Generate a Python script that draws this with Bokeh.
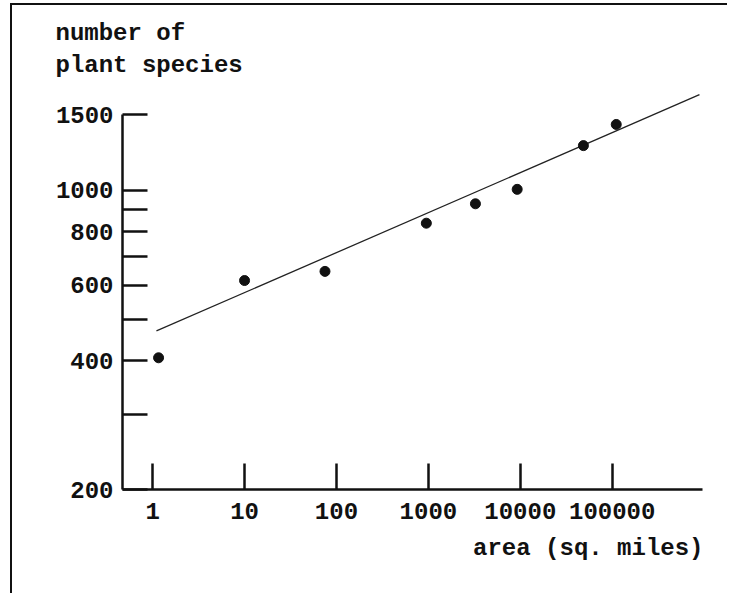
from bokeh.plotting import figure
from bokeh.models import FixedTicker, NumeralTickFormatter, Title, Range1d
from bokeh.embed import file_html
from bokeh.resources import INLINE

# data
area = [1.16, 10, 75, 950, 3250, 9250, 48600, 110600]
species = [406, 615, 646, 837, 929, 1004, 1270, 1423]
fit_area = [1.1, 890000]
fit_species = [469, 1670]
x_ticks = [1, 10, 100, 1000, 10000, 100000]
y_major = [200, 400, 600, 800, 1000, 1500]
y_minor = [300, 500, 700, 900]

FONT = "Liberation Mono"
INK = "#111111"
FS = "24px"

p = figure(width=715, height=588, x_axis_type="log", y_axis_type="log",
           x_range=Range1d(0.47, 960000), y_range=Range1d(200, 1764),
           output_backend="svg", toolbar_location=None, title=None,
           min_border_left=110, min_border_right=27,
           min_border_top=79, min_border_bottom=106)
p.margin = (3, 0, 0, 10)
p.outline_line_color = None
p.border_fill_color = "white"
p.background_fill_color = "white"
p.grid.visible = False
p.styles = {
    "box-sizing": "content-box",
    "border-left": "2px solid #111111",
    "border-top": "2px solid #111111",
}

# x axis
xa = p.xaxis[0]
xa.ticker = FixedTicker(ticks=x_ticks)
xa.formatter = NumeralTickFormatter(format="0")
xa.major_tick_in = 26
xa.major_tick_out = 0
xa.major_tick_line_width = 2.5
xa.major_tick_line_color = INK
xa.minor_tick_line_color = None
xa.axis_line_width = 2.5
xa.axis_line_color = INK
xa.major_label_standoff = 13
xa.major_label_text_font = FONT
xa.major_label_text_font_style = "bold"
xa.major_label_text_font_size = FS
xa.major_label_text_color = INK

# y axis
ya = p.yaxis[0]
ya.ticker = FixedTicker(ticks=y_major, minor_ticks=y_minor)
ya.formatter = NumeralTickFormatter(format="0")
ya.bounds = (200, 1500)
ya.major_tick_in = 25
ya.major_tick_out = 0
ya.minor_tick_in = 25
ya.minor_tick_out = 0
ya.major_tick_line_width = 2.5
ya.minor_tick_line_width = 2.5
ya.major_tick_line_color = INK
ya.minor_tick_line_color = INK
ya.axis_line_width = 2.5
ya.axis_line_color = INK
ya.major_label_standoff = 9
ya.major_label_text_font = FONT
ya.major_label_text_font_style = "bold"
ya.major_label_text_font_size = FS
ya.major_label_text_color = INK

# fit line and points
p.line(fit_area, fit_species, line_color="#222222", line_width=1.3)
p.scatter(area, species, size=10, color=INK)

# texts (titles placed in the side panels)
common = dict(text_font=FONT, text_font_style="bold", text_font_size=FS,
              text_color=INK)
p.add_layout(Title(text="plant species", align="left", offset=-67,
                   standoff=12, **common), "above")
p.add_layout(Title(text="number of", align="left", offset=-67,
                   standoff=-7, **common), "above")
p.add_layout(Title(text="area (sq. miles)", align="right", offset=-1,
                   standoff=22, **common), "below")

open("out.html", "w").write(file_html(p, INLINE))
